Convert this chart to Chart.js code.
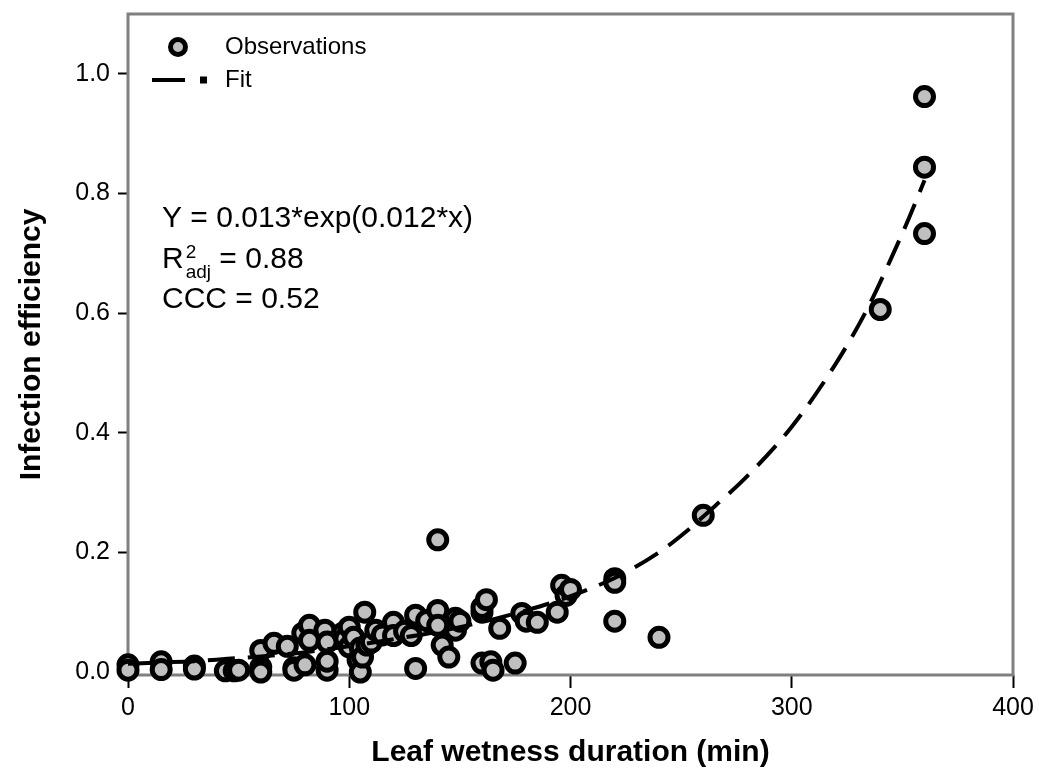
<!DOCTYPE html>
<html>
<head>
<meta charset="utf-8">
<script src="https://cdn.jsdelivr.net/npm/chart.js@4.4.1/dist/chart.umd.min.js"></script>
<style>
  html, body { margin: 0; padding: 0; background: #fff; }
  #wrap { width: 1039px; height: 775px; }
</style>
</head>
<body>
<div id="wrap"><canvas id="myChart" width="1039" height="775"></canvas></div>
<script>
// observations (leaf wetness duration, infection efficiency)
var obsX = [0, 0, 15, 15, 30, 30, 44, 48, 50, 60, 60, 60, 66, 72, 75, 75, 80, 79, 82, 82,
            89, 90, 90, 90, 97, 98, 100, 100, 102, 104, 105, 105, 106, 107, 108, 110, 112, 115,
            120, 120, 125, 128, 130, 130, 135, 140, 140, 140, 142, 145, 148, 148, 150,
            160, 160, 162, 160, 164, 165, 168, 175, 178, 180, 185, 194, 196, 198, 200,
            220, 220, 220, 240, 260, 340, 360, 360, 360];
var obsY = [0.012, 0.003, 0.017, 0.004, 0.010, 0.005, 0.002, 0.002, 0.003, 0.008, 0.036, 0.000, 0.048, 0.043, 0.007, 0.003, 0.012, 0.065, 0.078, 0.053,
            0.070, 0.050, 0.003, 0.018, 0.065, 0.056, 0.042, 0.075, 0.058, 0.020, 0.000, 0.040, 0.025, 0.100, 0.045, 0.050, 0.070, 0.062,
            0.083, 0.061, 0.068, 0.061, 0.095, 0.006, 0.086, 0.103, 0.078, 0.221, 0.045, 0.025, 0.090, 0.070, 0.085,
            0.100, 0.108, 0.121, 0.015, 0.017, 0.003, 0.073, 0.015, 0.098, 0.085, 0.083, 0.100, 0.145, 0.128, 0.138,
            0.156, 0.150, 0.085, 0.058, 0.262, 0.606, 0.733, 0.844, 0.962];

// fitted curve
var fitX = [0, 15, 30, 45, 60, 75, 90, 105, 120, 135, 150, 165, 180, 195, 210, 222, 240, 253, 260, 280, 300, 320, 334, 344, 353, 360];
var fitY = [0.014, 0.016, 0.018, 0.022, 0.026, 0.031, 0.038, 0.046, 0.055, 0.064, 0.075, 0.088, 0.103, 0.120, 0.141, 0.161, 0.200, 0.237, 0.260, 0.328, 0.410, 0.516, 0.606, 0.684, 0.759, 0.822];

var xTicks = [0, 100, 200, 300, 400];
var yTicks = [0, 0.2, 0.4, 0.6, 0.8, 1.0];

var FONT = "'Liberation Sans', Arial, sans-serif";

var obsData = obsX.map(function(x, i) { return {x: x, y: obsY[i]}; });
var fitData = fitX.map(function(x, i) { return {x: x, y: fitY[i]}; });

// grey frame + legend + equation text
var decor = {
  id: 'decor',
  beforeDatasetsDraw: function(chart) {
    var a = chart.chartArea, ctx = chart.ctx;
    ctx.save();
    ctx.strokeStyle = '#808080';
    ctx.lineWidth = 3;
    ctx.strokeRect(a.left, a.top, a.right - a.left, a.bottom - a.top);
    ctx.restore();
  },
  afterDraw: function(chart) {
    var ctx = chart.ctx;
    ctx.save();
    // legend
    ctx.beginPath();
    ctx.arc(178, 47, 7.5, 0, Math.PI * 2);
    ctx.fillStyle = '#c0c0c0';
    ctx.fill();
    ctx.lineWidth = 5;
    ctx.strokeStyle = '#000';
    ctx.stroke();
    ctx.fillStyle = '#000';
    ctx.fillRect(152, 78, 33, 4);
    ctx.fillRect(200, 76.5, 7, 7);
    ctx.font = '24px ' + FONT;
    ctx.textBaseline = 'middle';
    ctx.fillText('Observations', 225, 47);
    ctx.fillText('Fit', 225, 80);

    // equation
    ctx.textBaseline = 'alphabetic';
    ctx.font = '30px ' + FONT;
    ctx.fillText('Y = 0.013*exp(0.012*x)', 162, 227);
    ctx.fillText('R', 162, 268);
    var rx = 162 + ctx.measureText('R').width + 2;
    ctx.font = '19px ' + FONT;
    ctx.fillText('2', rx, 258);
    ctx.fillText('adj', rx, 278);
    var ex = rx + ctx.measureText('adj').width;
    ctx.font = '30px ' + FONT;
    ctx.fillText(' = 0.88', ex, 268);
    ctx.fillText('CCC = 0.52', 162, 308);
    ctx.restore();
  }
};

var ctx = document.getElementById('myChart').getContext('2d');
var chart = new Chart(ctx, {
  type: 'scatter',
  data: {
    datasets: [{
      label: 'Fit',
      type: 'line',
      data: fitData,
      showLine: true,
      borderColor: '#000',
      borderWidth: 4,
      borderDash: [27, 13],
      pointRadius: 0,
      fill: false,
      cubicInterpolationMode: 'monotone',
      order: 0,
      clip: false
    }, {
      label: 'Observations',
      data: obsData,
      backgroundColor: '#c0c0c0',
      borderColor: '#000',
      borderWidth: 5,
      pointRadius: 9,
      pointHoverRadius: 9,
      order: 1,
      clip: false
    }]
  },
  options: {
    responsive: false,
    animation: false,
    layout: { padding: { top: 10, right: 26, left: 0, bottom: 0 } },
    plugins: {
      legend: { display: false },
      tooltip: { enabled: false }
    },
    scales: {
      x: {
        type: 'linear',
        min: 0,
        max: 400,
        afterFit: function(s) { s.height = 100; s.paddingLeft = 0; s.paddingRight = 0; },
        afterBuildTicks: function(s) { s.ticks = xTicks.map(function(v) { return {value: v}; }); },
        grid: { display: true, drawOnChartArea: false, tickLength: 13, tickColor: '#000', tickWidth: 2 },
        border: { display: false },
        ticks: { color: '#000', font: { family: FONT, size: 25 }, padding: 5, maxRotation: 0 },
        title: {
          display: true,
          text: 'Leaf wetness duration (min)',
          color: '#000',
          font: { family: FONT, size: 30, weight: 'bold' },
          padding: { top: 20 }
        }
      },
      y: {
        type: 'linear',
        min: -0.005,
        max: 1.1,
        afterFit: function(s) { s.width = 128; s.paddingTop = 0; s.paddingBottom = 0; },
        afterBuildTicks: function(s) { s.ticks = yTicks.map(function(v) { return {value: v}; }); },
        grid: { display: true, drawOnChartArea: false, tickLength: 10, tickColor: '#000', tickWidth: 2 },
        border: { display: false },
        ticks: {
          color: '#000',
          font: { family: FONT, size: 25 },
          padding: 8,
          callback: function(v) { return v.toFixed(1); }
        },
        title: {
          display: true,
          text: 'Infection efficiency',
          color: '#000',
          font: { family: FONT, size: 30, weight: 'bold' },
          padding: { top: 14, bottom: 0 }
        }
      }
    }
  },
  plugins: [decor]
});
</script>
</body>
</html>
